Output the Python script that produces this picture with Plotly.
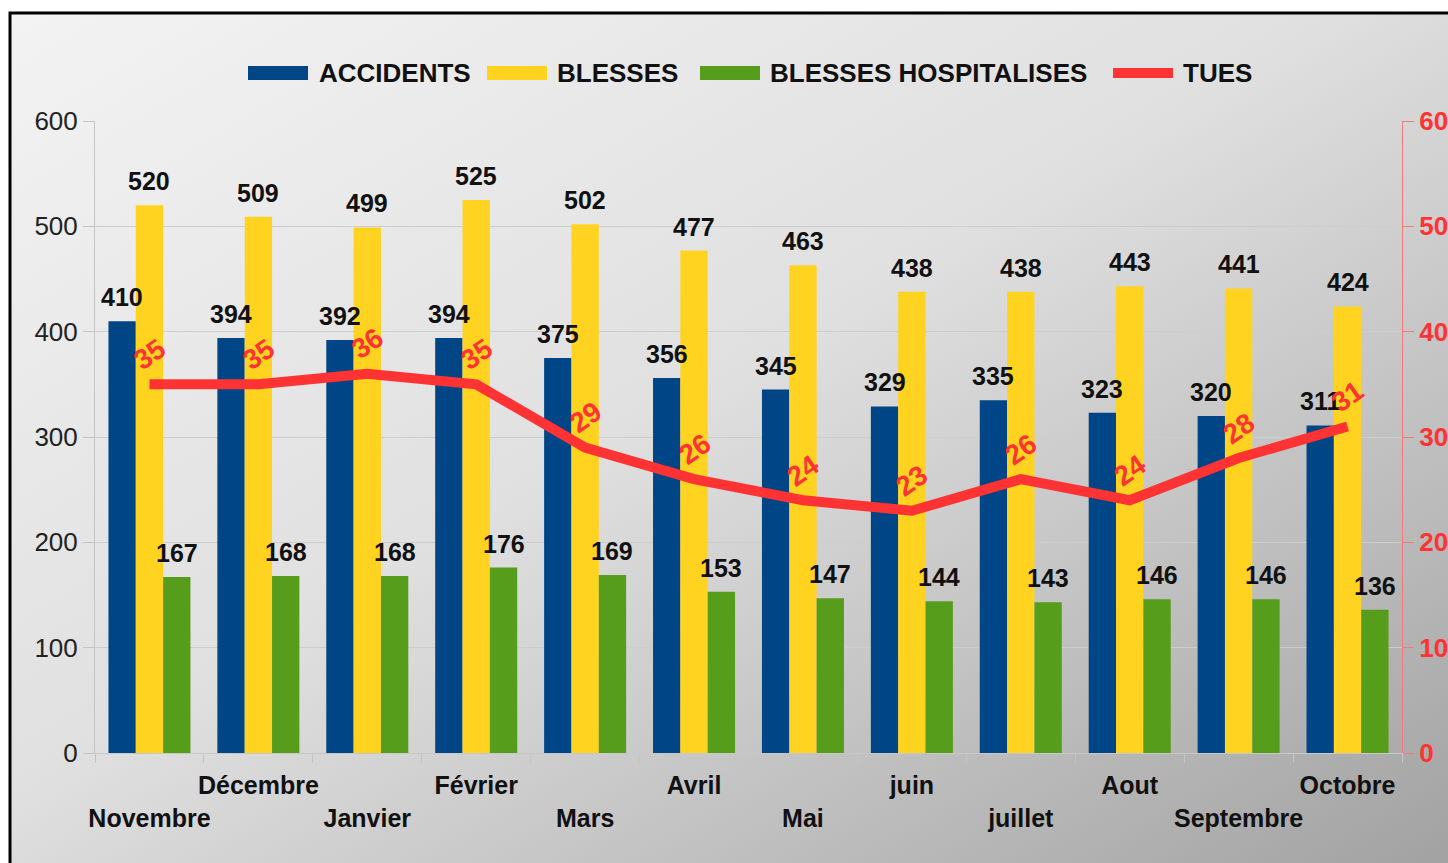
import base64
import plotly.graph_objects as go

# Monthly road safety figures
mois = ["Novembre", "Décembre", "Janvier", "Février", "Mars", "Avril",
        "Mai", "juin", "juillet", "Aout", "Septembre", "Octobre"]
accidents = [410, 394, 392, 394, 375, 356, 345, 329, 335, 323, 320, 311]
blesses = [520, 509, 499, 525, 502, 477, 463, 438, 438, 443, 441, 424]
blesses_hosp = [167, 168, 168, 176, 169, 153, 147, 144, 143, 146, 146, 136]
tues = [35, 35, 36, 35, 29, 26, 24, 23, 26, 24, 28, 31]

BLUE = "#004586"
YELLOW = "#ffd320"
GREEN = "#579d1c"
RED = "#ff3333"
FONT = "Liberation Sans, Arial, sans-serif"

W_FIG, H_FIG = 1448, 863
L, R, T, B = 95, 1402, 121, 753  # plot area in pixels
BARGAP = 0.247


def px_x(p):
    return (p - L) / (R - L)


def px_y(p):
    return (B - p) / (B - T)


# staggered month labels: even on lower row, odd on upper row
tick_text = [("\u00a0<br>" + m) if i % 2 == 0 else (m + "<br>\u00a0")
             for i, m in enumerate(mois)]

fig = go.Figure()

series = [
    ("ACCIDENTS", accidents, BLUE),
    ("BLESSES", blesses, YELLOW),
    ("BLESSES HOSPITALISES", blesses_hosp, GREEN),
]
for name, vals, col in series:
    fig.add_trace(go.Bar(x=mois, y=vals, name=name,
                         marker=dict(color=col, line=dict(width=0)),
                         showlegend=False))
fig.add_trace(go.Scatter(x=mois, y=tues, name="TUES", yaxis="y2",
                         mode="lines", line=dict(color=RED, width=10),
                         cliponaxis=False, showlegend=False))

annotations = []

# bar value labels, drawn on top of all bars
cat_px = (R - L) / len(mois)
bar_px = cat_px * (1 - BARGAP) / len(series)
for k, (name, vals, col) in enumerate(series):
    shift = (k - (len(series) - 1) / 2) * bar_px
    for m, v in zip(mois, vals):
        annotations.append(dict(
            x=m, y=v, xref="x", yref="y", text=str(v), showarrow=False,
            xshift=shift, yshift=8, yanchor="bottom",
            font=dict(family=FONT, size=25, color="#111111", weight="bold"),
        ))

# rotated value labels on the red line
for m, v in zip(mois, tues):
    annotations.append(dict(
        x=m, y=v, xref="x", yref="y2", text=str(v), showarrow=False,
        yshift=30, textangle=-35,
        font=dict(family=FONT, size=28, color=RED, weight="bold"),
    ))

# custom legend with wide swatches
legend_items = [
    ("ACCIDENTS", BLUE, 248, 308, 66, 80, 317),
    ("BLESSES", YELLOW, 487, 547, 66, 80, 555),
    ("BLESSES HOSPITALISES", GREEN, 700, 760, 66, 80, 768),
    ("TUES", RED, 1113, 1173, 68, 78, 1181),
]
shapes = []
for label, col, x0, x1, y0, y1, tx in legend_items:
    shapes.append(dict(type="rect", xref="paper", yref="paper",
                       x0=px_x(x0), x1=px_x(x1), y0=px_y(y1), y1=px_y(y0),
                       fillcolor=col, line=dict(width=0), layer="above"))
    annotations.append(dict(
        x=px_x(tx), y=px_y(73), xref="paper", yref="paper", text=label,
        showarrow=False, xanchor="left", yanchor="middle",
        font=dict(family=FONT, size=26, color="#111111", weight="bold"),
    ))

# black frame around the chart
shapes.append(dict(type="rect", xref="paper", yref="paper",
                   x0=px_x(10), x1=px_x(1470), y0=px_y(880), y1=px_y(13),
                   line=dict(color="#000000", width=3), layer="above"))

# diagonal grey gradient background
svg = ('<svg xmlns="http://www.w3.org/2000/svg" width="400" height="300" '
       'preserveAspectRatio="none">'
       '<defs><linearGradient id="g" x1="0" y1="0" x2="1" y2="1">'
       '<stop offset="0" stop-color="#f3f3f3"/>'
       '<stop offset="0.45" stop-color="#e0e0e0"/>'
       '<stop offset="1" stop-color="#a0a0a0"/>'
       '</linearGradient></defs>'
       '<rect width="400" height="300" fill="url(#g)"/></svg>')
bg_src = "data:image/svg+xml;base64," + base64.b64encode(svg.encode()).decode()

fig.update_layout(
    width=W_FIG, height=H_FIG,
    margin=dict(l=L, r=W_FIG - R, t=T, b=H_FIG - B, pad=0),
    paper_bgcolor="#ffffff",
    plot_bgcolor="rgba(0,0,0,0)",
    barmode="group",
    bargap=BARGAP,
    bargroupgap=0,
    showlegend=False,
    font=dict(family=FONT),
    images=[dict(source=bg_src, xref="paper", yref="paper",
                 x=px_x(10), y=px_y(13),
                 sizex=px_x(1470) - px_x(10), sizey=px_y(13) - px_y(880),
                 sizing="stretch", xanchor="left", yanchor="top",
                 layer="below")],
    xaxis=dict(
        tickmode="array", tickvals=mois, ticktext=tick_text, tickangle=0,
        tickson="boundaries", ticks="outside", ticklen=9,
        ticklabelstandoff=10,
        tickcolor="#c4c4c4", showline=True, linecolor="#c8c8c8",
        showgrid=False, automargin=False,
        tickfont=dict(family=FONT, size=25, color="#111111", weight="bold"),
    ),
    yaxis=dict(
        range=[0, 600], dtick=100, showgrid=True, gridcolor="#cdcdcd",
        zeroline=False, showline=True, linecolor="#c4c4c4",
        ticks="outside", ticklen=11, tickcolor="#c4c4c4",
        tickfont=dict(family=FONT, size=26, color="#222222"),
        automargin=False,
    ),
    yaxis2=dict(
        range=[0, 60], dtick=10, overlaying="y", side="right",
        showgrid=False, zeroline=False, showline=True,
        linecolor="#f27a7a", ticks="outside", ticklen=11, tickcolor="#f27a7a",
        tickfont=dict(family=FONT, size=26, color=RED, weight="bold"),
        automargin=False,
    ),
    shapes=shapes,
    annotations=annotations,
)

fig.write_html("out.html")
